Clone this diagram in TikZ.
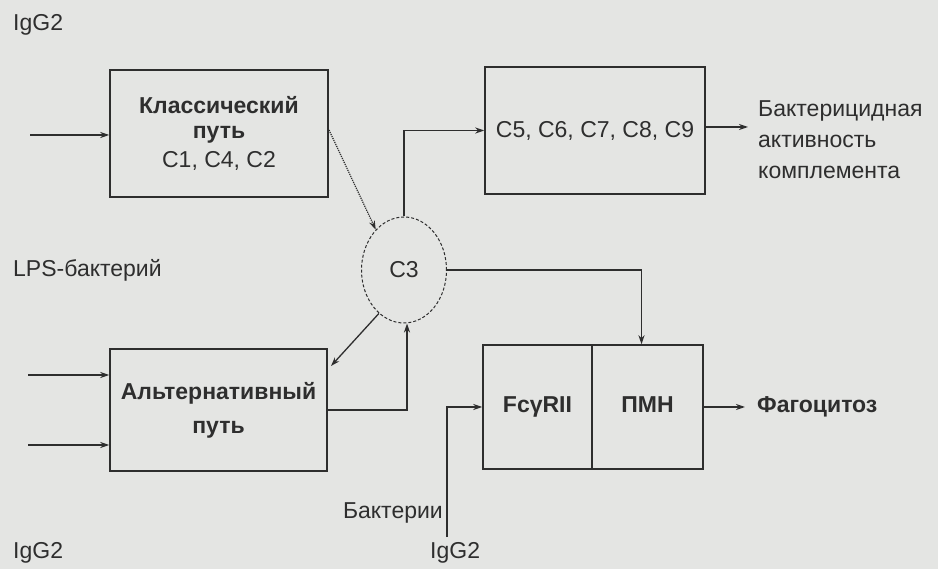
\documentclass[tikz,border=0pt]{standalone}
\usepackage{fontspec}
\setmainfont{Liberation Sans}
\usetikzlibrary{arrows.meta,shapes.geometric}
\definecolor{bg}{HTML}{E4E5E3}
\definecolor{ink}{HTML}{2E2E2E}
\begin{document}
\begin{tikzpicture}[x=1pt,y=-1pt,
  every node/.style={text=ink, font=\fontsize{23}{28}\selectfont},
  bf/.style={font=\fontsize{23}{28}\selectfont\bfseries},
  box/.style={draw=ink, line width=1.5pt, inner sep=0pt},
  conn/.style={draw=ink, line width=1.3pt, -{Stealth[length=9pt,width=6pt]}},
  dotconn/.style={draw=ink, line width=1.2pt, densely dotted, -{Stealth[length=9pt,width=6pt]}},
  lbl/.style={inner sep=0pt}]
\fill[bg] (0,0) rectangle (938,569);
\useasboundingbox (0,0) rectangle (938,569);

% boxes
\node[box, minimum width=218pt, minimum height=127pt, align=center] (classic) at (219,133.5)
  {{\bfseries Классический}\\[-3pt]{\bfseries путь}\\[1pt]C1, C4, C2};
\node[box, minimum width=220pt, minimum height=127pt] (c5) at (595,130.5) {C5, C6, C7, C8, C9};
\node[box, minimum width=217pt, minimum height=122pt, align=center,
  font=\fontsize{23}{34}\selectfont\bfseries] (alt) at (218.5,410) {Альтернативный\\путь};
\node[box, minimum width=109pt, minimum height=124pt, bf, text height=17pt, text depth=5pt] (fc) at (537.5,407) {FcγRII};
\node[box, minimum width=111pt, minimum height=124pt, bf, text height=17pt, text depth=5pt] (pmn) at (647.5,407) {ПМН};
\node[ellipse, draw=ink, line width=1pt, densely dashed, minimum width=85pt, minimum height=106pt, inner sep=0pt] (c3) at (404,270) {C3};

% labels
\node[lbl, anchor=west] (igtop) at (13,25) {IgG2};
\node[lbl, anchor=west] (lps) at (13,270) {LPS-бактерий};
\node[lbl, anchor=west] (igbl) at (13,553) {IgG2};
\node[lbl, anchor=west] (igbm) at (430,553) {IgG2};
\node[lbl, anchor=east] (bact) at (443,513) {Бактерии};
\node[lbl, anchor=west, align=left, font=\fontsize{23}{31}\selectfont] (bakt) at (758,140)
  {Бактерицидная\\активность\\комплемента};
\node[lbl, anchor=west, bf] (phago) at (757,407) {Фагоцитоз};

% free ends
\coordinate (in1) at (30,135);
\coordinate (ina1) at (28,375);
\coordinate (ina2) at (28,445);
\coordinate (inb) at (447,537);
\coordinate (out1) at (748,127);
\coordinate (out2) at (745,407);
\coordinate (altin) at (331,366);
\coordinate (dotstart) at (329,130);

% connectors
\draw[conn] (in1) -- (in1 -| classic.west);
\draw[dotconn] (dotstart) -- (c3.125);
\draw[conn] (c3.north) |- (c5.west);
\draw[conn] (c5.east |- out1) -- (out1);
\draw[conn] (c3.east) -| ([xshift=-6pt]pmn.north);
\draw[conn] (c3.240) -- (altin);
\draw[conn] (alt.east) -| ([xshift=3pt]c3.south);
\draw[conn] (ina1) -- (ina1 -| alt.west);
\draw[conn] (ina2) -- (ina2 -| alt.west);
\draw[conn] (inb) |- (fc.west);
\draw[conn] (pmn.east) -- (out2);
\end{tikzpicture}
\end{document}
